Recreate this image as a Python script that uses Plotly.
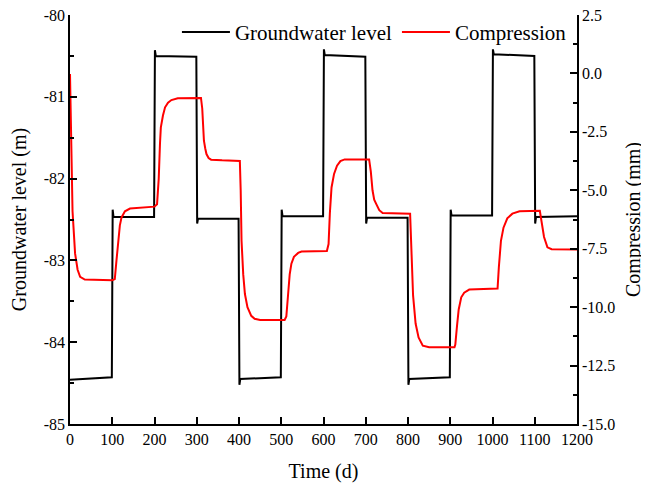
import plotly.graph_objects as go

# Groundwater level (m)
gw_t = [0, 99, 101, 103, 199, 201, 203, 299, 301, 303, 399, 401, 403, 499, 501, 503,
        599, 601, 603, 699, 701, 703, 799, 801, 803, 899, 901, 903, 999, 1001, 1003,
        1099, 1101, 1103, 1200]
gw_v = [-84.46, -84.43, -82.38, -82.47, -82.47, -80.43, -80.50, -80.51, -82.55, -82.49,
        -82.49, -84.52, -84.45, -84.43, -82.38, -82.46, -82.46, -80.42, -80.49, -80.51,
        -82.55, -82.48, -82.48, -84.52, -84.45, -84.43, -82.38, -82.45, -82.45, -80.42,
        -80.48, -80.50, -82.55, -82.47, -82.46]

# Compression (mm)
cp_t = [0, 3, 6, 12, 18, 24, 35, 100, 106, 110, 114, 118, 122, 130, 142, 200,
        206, 210, 213, 215, 220, 225, 232, 240, 255, 310, 313, 317, 320, 323, 328, 334, 360,
        402, 404, 406, 410, 414, 420, 429, 437, 450, 508, 512, 516, 520, 524, 530, 540, 548,
        608, 612, 615, 619, 625, 632, 640, 650, 708, 712, 716, 720, 725, 732, 740,
        805, 808, 812, 818, 825, 835, 850, 910, 912, 916, 920, 926, 933, 945,
        1012, 1015, 1020, 1026, 1035, 1047, 1064, 1112, 1116, 1122, 1130, 1140, 1200]
cp_v = [-0.02, -3.5, -5.9, -7.7, -8.4, -8.7, -8.82, -8.85, -8.8, -8.0, -7.16, -6.5, -6.16,
        -5.9, -5.78, -5.7,
        -5.6, -4.5, -3.0, -2.31, -1.8, -1.45, -1.25, -1.14, -1.06, -1.05, -1.5, -2.88, -3.2,
        -3.45, -3.62, -3.69, -3.72,
        -3.75, -5.0, -7.16, -8.6, -9.44, -10.0, -10.37, -10.5, -10.55, -10.55, -10.4, -9.5,
        -8.6, -8.14, -7.85, -7.68, -7.62,
        -7.6, -7.3, -6.0, -4.88, -4.3, -3.95, -3.75, -3.68, -3.68, -4.2, -5.0, -5.4, -5.59,
        -5.85, -5.97,
        -6.0, -7.5, -9.5, -10.7, -11.3, -11.65, -11.72, -11.72, -11.6, -10.8, -10.1, -9.58,
        -9.38, -9.25,
        -9.2, -8.3, -7.16, -6.6, -6.2, -6.0, -5.9, -5.88, -6.3, -7.0, -7.44, -7.52, -7.53]

x_ticks = list(range(0, 1201, 100))
y1_ticks = [-85, -84, -83, -82, -81, -80]
y1_labels = ["-85", "-84", "-83", "-82", "-81", "-80"]
y2_ticks = [-15.0, -12.5, -10.0, -7.5, -5.0, -2.5, 0.0, 2.5]
y2_labels = ["-15.0", "-12.5", "-10.0", "-7.5", "-5.0", "-2.5", "0.0", "2.5"]

FONT = "Liberation Serif"

fig = go.Figure()
fig.add_trace(go.Scatter(x=gw_t, y=gw_v, mode="lines", name="Groundwater level",
                         line=dict(color="black", width=2), yaxis="y"))
fig.add_trace(go.Scatter(x=cp_t, y=cp_v, mode="lines", name="Compression",
                         line=dict(color="#ff0000", width=2), yaxis="y2"))

axis_common = dict(showline=True, linecolor="black", linewidth=1.5, ticks="inside",
                   ticklen=7, tickwidth=1.5, tickcolor="black", showgrid=False,
                   zeroline=False, automargin=False, ticklabeloverflow="allow",
                   tickfont=dict(family=FONT, size=16, color="black"))

fig.update_layout(
    width=641, height=478,
    margin=dict(l=62, r=72, t=7, b=62, autoexpand=False),
    paper_bgcolor="white", plot_bgcolor="white",
    font=dict(family=FONT, color="black"),
    showlegend=True,
    legend=dict(orientation="h", x=0.99, xanchor="right", y=1.008, yanchor="top",
                bgcolor="rgba(0,0,0,0)", font=dict(family=FONT, size=21),
                itemwidth=48, traceorder="normal"),
    xaxis=dict(range=[0, 1200], tickvals=x_ticks,
               title=dict(text="Time (d)", font=dict(family=FONT, size=20), standoff=17),
               **axis_common),
    yaxis=dict(range=[-85, -80], tickvals=y1_ticks, ticktext=y1_labels,
               minor=dict(dtick=0.5, ticks="inside", ticklen=4, tickcolor="black", tickwidth=1.5),
               title=dict(text="Groundwater level (m)", font=dict(family=FONT, size=20), standoff=15),
               **axis_common),
    yaxis2=dict(range=[-15, 2.5], tickvals=y2_ticks, ticktext=y2_labels, overlaying="y",
                side="right", anchor="x",
                minor=dict(dtick=1.25, ticks="inside", ticklen=4, tickcolor="black", tickwidth=1.5),
                title=dict(text="Compression (mm)", font=dict(family=FONT, size=20), standoff=12),
                **axis_common),
)

fig.write_html("out.html")
